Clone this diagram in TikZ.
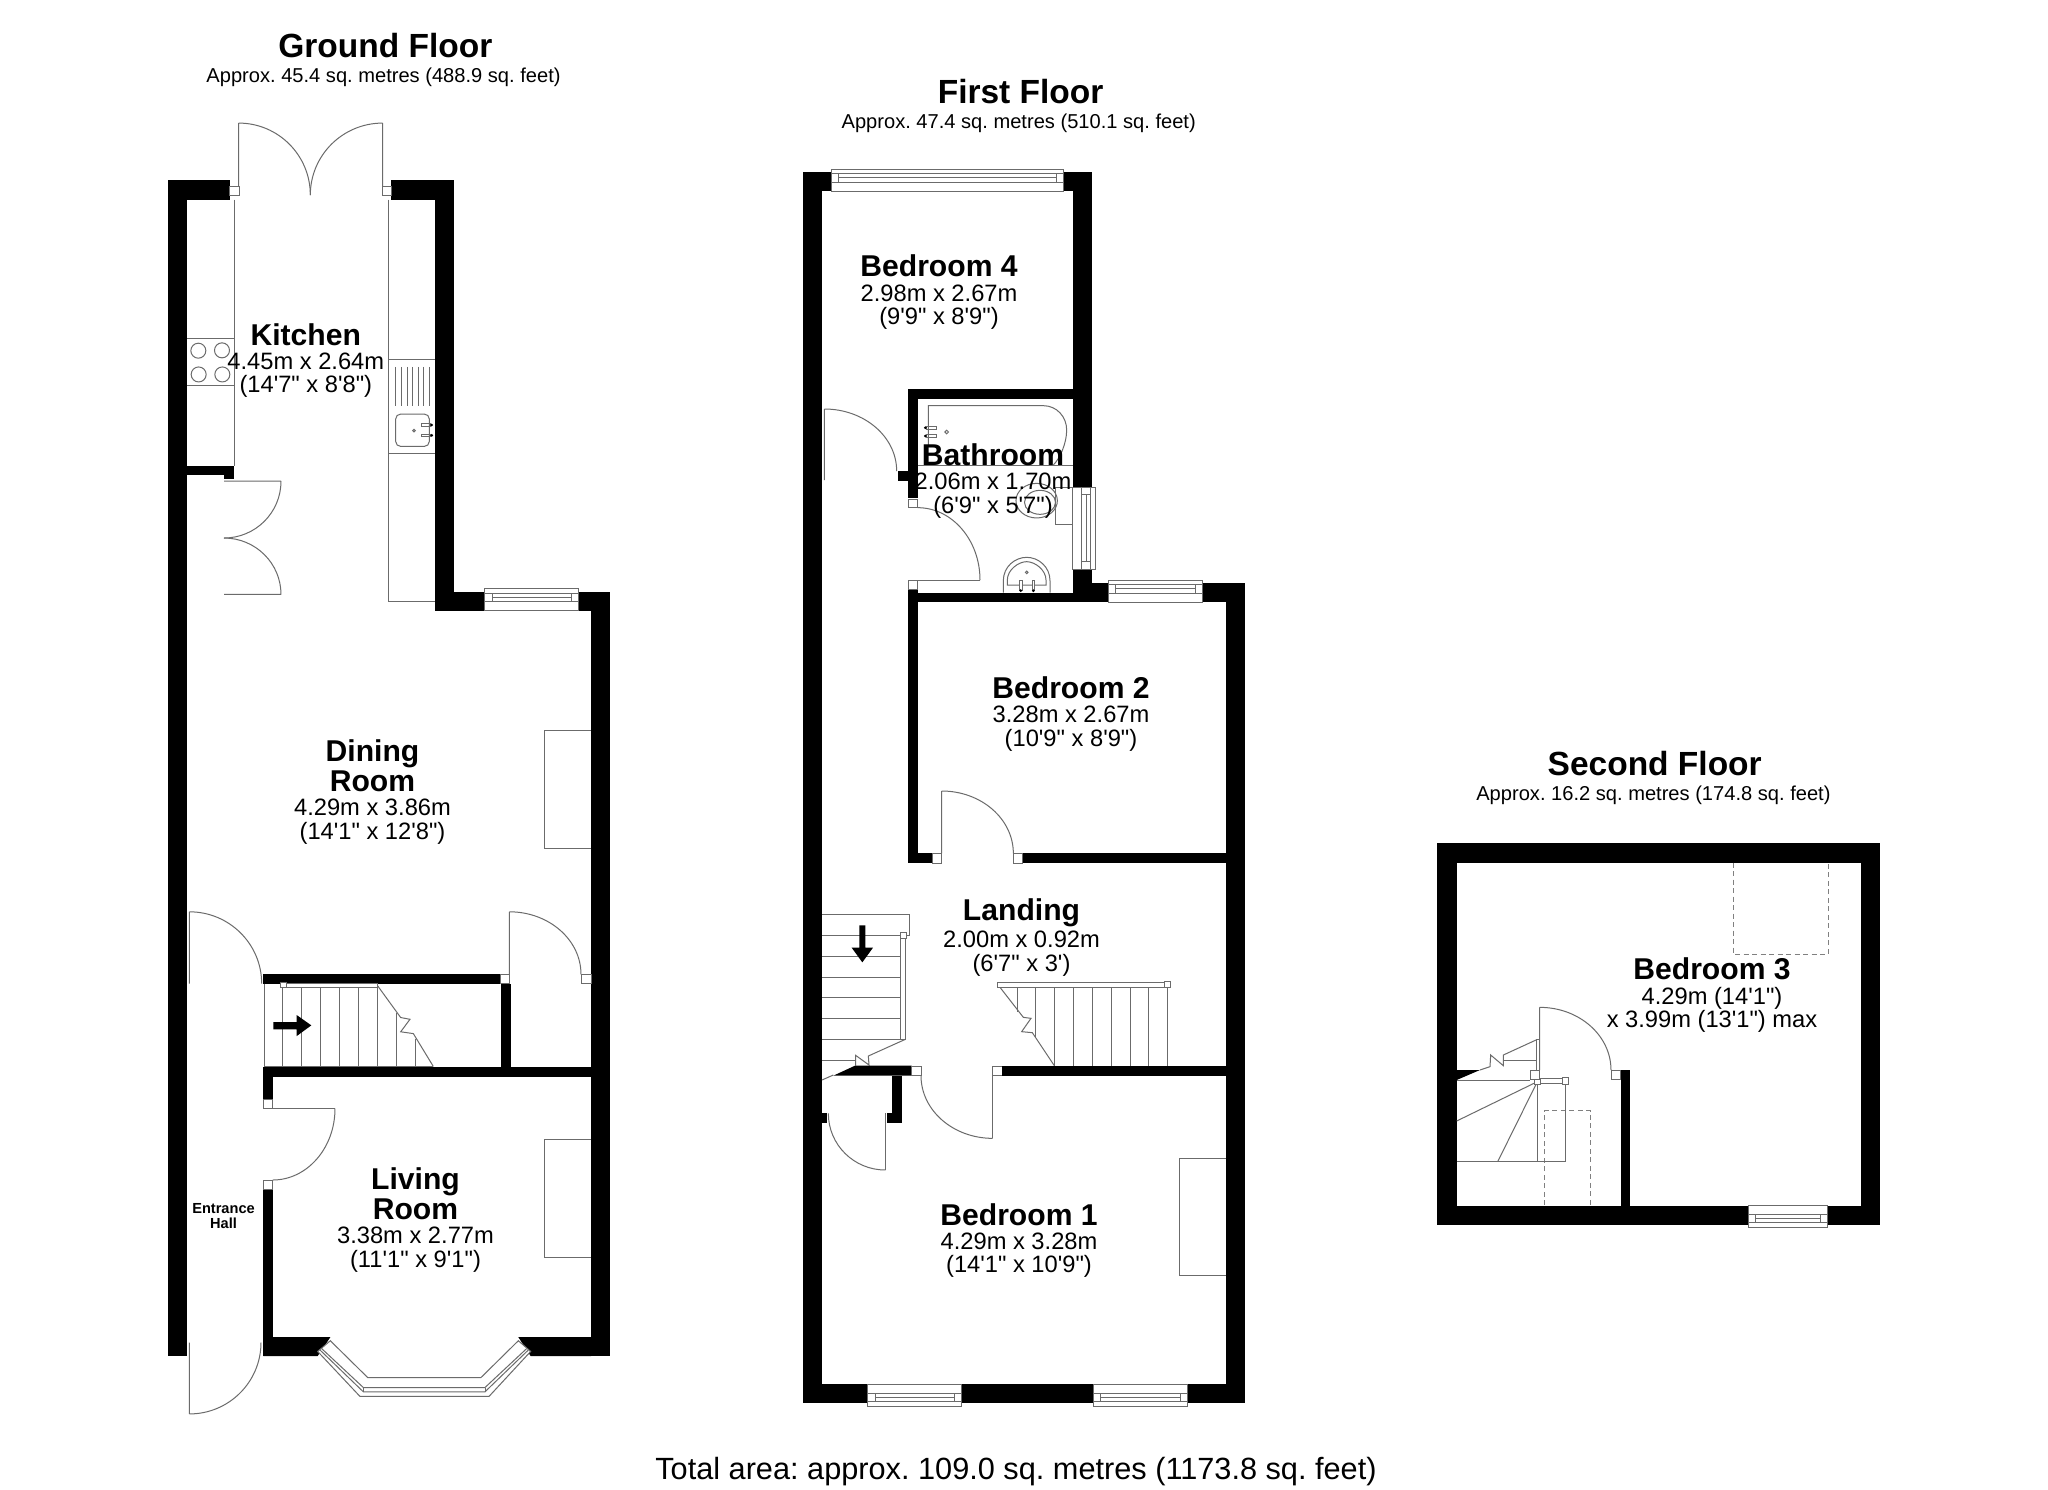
\documentclass[tikz,border=0pt]{standalone}
\usepackage{fontspec}
\newfontfamily\lib{Liberation Sans}
\frenchspacing
\newcommand\nameF{\lib\bfseries\fontsize{30.1}{24}\selectfont}
\newcommand\dimF{\lib\mdseries\fontsize{23.7}{24}\selectfont}
\newcommand\titleF{\lib\bfseries\fontsize{33.5}{36}\selectfont}
\newcommand\subF{\lib\mdseries\fontsize{20.1}{24}\selectfont}
% quarter arc: horizontal tangent at start, vertical tangent at end
\newcommand\qhv[4]{(#1,#2) .. controls ({#1+.5523*(#3-#1)},#2) and (#3,{#4-.5523*(#4-#2)}) .. (#3,#4)}
\tikzset{
  zm/.style n args={4}{shift={(#1,#2)},x=#3pt,y=-#4pt},
  wall/.style={fill=black,draw=none},
  thin line/.style={draw=black!58,line width=1pt},
  sqbox/.style={draw=black!58,line width=1pt,fill=white},
  dash line/.style={draw=black!50,line width=1pt,dash pattern=on 5pt off 3.5pt},
  roomlabel/.style={align=center,inner sep=0pt},
}
\newcommand\windraw[1]{%
  \draw[sqbox] (0,0) rectangle (1,1);
  \draw[thin line] (0,.41)--(1,.41) (0,.78)--(1,.78) (#1,.6)--({1-#1},.6)
     (#1,.41)--(#1,.78) ({1-#1},.41)--({1-#1},.78);}
\newcommand\winh[4]{\begin{scope}[shift={(#1,#2)},x=#3pt,y=#4pt]\windraw{7.3/#3}\end{scope}}
\newcommand\winv[4]{\begin{scope}[shift={(#1,#2)},x={(0pt,-#3pt)},y={(#4pt,0pt)}]\windraw{7.3/#3}\end{scope}}
\begin{document}
\begin{tikzpicture}[x=1pt,y=-1pt]
\useasboundingbox (0,0) rectangle (2048,1489);
\fill[white] (0,0) rectangle (2048,1489);

% ===== GROUND FLOOR =====
\fill[wall] (167.7,180.2) rectangle (187,1356);
\fill[wall] (591,591.7) rectangle (610.3,1356);
\begin{scope}[zm={150}{100}{.33333}{.34435}]
  \fill[wall] (53,233) rectangle (239,289);
  \fill[wall] (724,233) rectangle (913,289);
  \fill[wall] (856,233) rectangle (913,1483);
  \fill[wall] (856,1428) rectangle (1003,1483);
  \fill[wall] (111,1063) rectangle (252,1090);
  \fill[wall] (222,1090) rectangle (252,1102);
  \draw[sqbox] (239,250) rectangle (267,276);
  \draw[sqbox] (697,250) rectangle (724,276);
  \draw[thin line] (266,250)--(266,67) \qhv{266}{67}{481}{276};
  \draw[thin line] (698,250)--(698,67) \qhv{698}{67}{481}{276};
  \draw[thin line] (222,1107)--(393,1107) \qhv{222}{1272}{393}{1107};
  \draw[thin line] (222,1436)--(393,1436) \qhv{222}{1272}{393}{1436};
  \draw[thin line] (252,289)--(252,1063) (111,692)--(252,692) (111,830)--(252,830);
  \foreach \p in {(145,728),(216,727),(146,797),(217,797)} \draw[thin line] \p circle[radius=7.5pt];
  \draw[thin line] (715,289)--(715,1456)--(856,1456) (715,753)--(856,753) (715,1027)--(856,1027);
  \foreach \q in {737,754,771,787,804,821,838} \draw[thin line] (\q,775)--(\q,890);
  \draw[thin line,rounded corners=5pt] (737,912) rectangle (838,1006);
  \draw[thin line] (814,940) rectangle (842,948) (814,970) rectangle (842,978);
  \fill (845,944) circle[radius=1.5pt] (845,974) circle[radius=1.5pt];
  \draw[thin line] (792,960) circle[radius=1.3pt];
\end{scope}
\fill[wall] (578.7,591.7) rectangle (610.3,610.7);
\winh{484.7}{610.7}{94}{22.4}
\draw[thin line] (591,730.3)--(544,730.3)--(544,848.3)--(591,848.3);
\begin{scope}[zm={150}{880}{.33333}{.35714}]
  \fill[wall] (340,264) rectangle (1050,290);
  \fill[wall] (1054,290) rectangle (1082,525);
  \fill[wall] (340,524) rectangle (1323,552);
  \fill[wall] (340,552) rectangle (369,614);
  \fill[wall] (340,866) rectangle (369,1333);
  \fill[wall] (340,1280) -- (541,1280) -- (503,1333) -- (340,1333) -- cycle;
  \fill[wall] (1105,1280) -- (1323,1280) -- (1323,1333) -- (1142,1333) -- cycle;
  % entrance doors
  \draw[thin line] (118,290)--(118,89) \qhv{118}{89}{335}{290};
  \draw[thin line] (118,1295)--(118,1495) \qhv{118}{1495}{333}{1295};
  % living room door
  \draw[sqbox] (340,614) rectangle (368,640);
  \draw[sqbox] (340,842) rectangle (368,866);
  \draw[thin line] (368,640)--(555,640);
  \draw[thin line] \qhv{368}{840}{555}{640};
  % dining door
  \draw[sqbox] (1052,264) rectangle (1078,290);
  \draw[sqbox] (1293,264) rectangle (1323,290);
  \draw[thin line] (1078,264)--(1078,89) \qhv{1078}{89}{1293}{264};
  % fireplace
  \draw[thin line] (1323,727)--(1182,727)--(1182,1057)--(1323,1057);
  % stairs
  \draw[thin line] (342,290)--(342,522)--(850,522);
  \foreach \q in {398,455,512,569,625,682} \draw[thin line] (\q,302)--(\q,522);
  \draw[thin line] (738,372)--(738,522) (795,445)--(795,522);
  \draw[thin line] (682,295)--(752,385)--(780,390)--(752,425)--(790,430)--(850,522);
  \draw[sqbox] (398,290) rectangle (682,302);
  \draw[sqbox] (390,287) rectangle (408,302);
  \fill[black] (370,398)--(440,398)--(440,378)--(484,407)--(440,437)--(440,418)--(370,418)--cycle;
  % bay
  \draw[thin line,fill=white] (503,1320)--(630,1446)--(1017,1446)--(1142,1320)--(1105,1290)--(993,1393)--(653,1393)--(541,1290)--cycle;
  \draw[thin line] (515,1312)--(640,1421)--(1005,1421)--(1130,1312);
  \draw[thin line] (510,1316)--(640,1433)--(1005,1433)--(1135,1316);
  \draw[thin line] (640,1421)--(640,1433) (1005,1421)--(1005,1433);
\end{scope}

% ===== FIRST FLOOR =====
\fill[wall] (802.7,172) rectangle (822.3,1403.3);
\fill[wall] (1072.7,172) rectangle (1092,487.3);
\fill[wall] (1225.7,583.3) rectangle (1245.3,1403.3);
\begin{scope}[zm={790}{150}{.33333}{.33333}]
  \fill[wall] (38,66) rectangle (123,124);
  \fill[wall] (820,66) rectangle (906,124);
\end{scope}
\winh{831}{191.3}{232.3}{22.3}
\begin{scope}[zm={790}{370}{.33333}{.33333}]
  \fill[wall] (353,58) rectangle (848,88);
  \fill[wall] (353,58) rectangle (383,385);
  \fill[wall] (323,303) rectangle (353,332);
  \fill[wall] (848,597) rectangle (905,697);
  \draw[sqbox] (355,388) rectangle (383,413);
  \draw[sqbox] (355,630) rectangle (383,657);
  \draw[thin line] \qhv{383}{413}{570}{630};
  \draw[thin line] (570,630)--(383,630);
  \draw[thin line] (103,330)--(103,117) \qhv{103}{117}{320}{303};
  % bath
  \draw[thin line] (383,285)--(848,285);
  \draw[thin line] (415,285)--(415,107)--(760,107) .. controls (800,107) and (830,140) .. (830,180) .. controls (830,220) and (810,265) .. (790,285);
  \draw[thin line] (410,169) rectangle (438,177) (410,194) rectangle (438,202);
  \fill (406,173) circle[radius=1.5pt] (406,198) circle[radius=1.5pt];
  \draw[thin line] (470,186) circle[radius=1.8pt];
  % wc
  \draw[thin line] (797,352) rectangle (848,463);
  \draw[thin line] (740,392) ellipse[x radius=20.7pt,y radius=17.3pt];
  \draw[thin line] (750,397) ellipse[x radius=15.5pt,y radius=12pt];
  % basin
  \draw[thin line] (640,668)--(640,632) .. controls (640,590) and (675,562) .. (710,562) .. controls (745,562) and (780,590) .. (780,632)--(780,668);
  \draw[thin line] (652,645)--(652,630) .. controls (652,600) and (685,575) .. (710,575) .. controls (735,575) and (768,600) .. (768,630)--(768,645)--cycle;
  \draw[thin line,fill=white] (688,632) rectangle (696,660) (726,632) rectangle (734,660);
  \fill (692,662) circle[radius=1.5pt] (730,662) circle[radius=1.5pt];
  \draw[thin line] (710,607) circle[radius=1.3pt];
\end{scope}
\winv{1072.7}{487.3}{81.7}{22.3}
\begin{scope}[zm={890}{570}{.33333}{.33333}]
  \fill[wall] (53,60) rectangle (83,879);
  \fill[wall] (53,68) rectangle (655,97);
  \fill[wall] (605,40) rectangle (655,97);
  \fill[wall] (937,40) rectangle (1066,97);
  \fill[wall] (53,850) rectangle (127,879);
  \fill[wall] (397,850) rectangle (1007,879);
  \draw[sqbox] (127,850) rectangle (155,879);
  \draw[sqbox] (370,850) rectangle (397,879);
  \draw[thin line] (155,850)--(155,663) \qhv{155}{663}{370}{850};
\end{scope}
\winh{1108.3}{602.3}{94}{22.3}
\begin{scope}[zm={800}{900}{.33333}{.33333}]
  % upper stairs (down)
  \draw[thin line] (66,44)--(328,44)--(328,105)--(318,105);
  \foreach \q in {105,168,231,293,355,418} \draw[thin line] (66,\q)--(300,\q);
  \draw[thin line] (66,480)--(165,480);
  \draw[thin line] (300,115) rectangle (316,418);
  \draw[sqbox] (300,97) rectangle (318,115);
  \draw[thin line] (316,418)--(205,468)--(207,495)--(167,466)--(167,497);
  \draw[thin line] (100,525)--(66,540);
  \fill[black] (178,76)--(196,76)--(196,143)--(219,143)--(187,187)--(155,143)--(178,143)--cycle;
  % walls
  \fill[wall] (100,527)--(165,497)--(335,497)--(335,527)--cycle;
  \fill[wall] (275,527) rectangle (305,640);
  \fill[wall] (262,640) rectangle (305,668);
  \fill[wall] (66,640) rectangle (80,668);
  \draw[sqbox] (335,500) rectangle (363,527);
  \draw[sqbox] (578,500) rectangle (606,527);
  \fill[wall] (606,497) rectangle (1278,527);
  % closet door
  \draw[thin line] (256,640)--(256,810);
  \draw[thin line] \qhv{256}{810}{85}{640};
  % bedroom 1 door
  \draw[thin line] (578,527)--(578,715);
  \draw[thin line] \qhv{578}{715}{363}{527};
  % lower stairs
  \draw[thin line] (600,262)--(670,352)--(693,355)--(665,395)--(697,398)--(763,497);
  \draw[thin line] (651,262)--(651,335) (707,262)--(707,412);
  \foreach \q in {763,820,877,933,990,1046,1103} \draw[thin line] (\q,262)--(\q,497);
  \draw[sqbox] (593,248) rectangle (1103,262);
  \draw[sqbox] (1093,243) rectangle (1112,263);
\end{scope}
\begin{scope}[zm={790}{1180}{.33333}{.33333}]
  \fill[wall] (38,612) rectangle (1366,670);
  \draw[thin line] (1308,-66)--(1167,-66)--(1167,287)--(1308,287);
\end{scope}
\winh{867.7}{1384}{94}{-22.7}
\winh{1093.3}{1384}{94}{-22.7}

% ===== SECOND FLOOR =====
\begin{scope}[zm={1430}{840}{.33333}{.33333}]
  \fill[wall] (22,10) rectangle (1350,68);
  \fill[wall] (22,1097) rectangle (1350,1155);
  \fill[wall] (22,10) rectangle (80,1155);
  \fill[wall] (1292,10) rectangle (1350,1155);
  \fill[wall] (572,690) rectangle (601,1097);
  \fill[wall] (80,690)--(150,690)--(80,720)--cycle;
  \draw[sqbox] (545,690) rectangle (572,718);
  \draw[thin line] (329,690)--(329,502) \qhv{329}{502}{543}{690};
  \draw[dash line] (910,68)--(910,343)--(1194,343)--(1194,68);
  \draw[dash line] (344,1095)--(344,812)--(482,812)--(482,1095);
  % stairs
  \draw[thin line] (80,722)--(300,722);
  \draw[thin line] (80,965)--(405,965)--(405,732);
  \draw[thin line] (322,733)--(322,965);
  \draw[thin line] (322,725)--(80,843) (322,725)--(203,965);
  \draw[thin line] (318,597) rectangle (329,690);
  \draw[thin line] (318,600)--(220,645)--(220,677)--(182,645)--(180,680)--(150,690);
  \draw[thin line] (220,660)--(318,660);
  \draw[sqbox] (300,690) rectangle (329,718);
  \draw[sqbox] (331,716) rectangle (397,730);
  \draw[sqbox] (314,717) rectangle (331,733);
  \draw[sqbox] (397,712) rectangle (415,732);
\end{scope}
\winh{1748.3}{1205.7}{79.4}{-22}

% ===== TEXT =====
\node[roomlabel] (gtitle) at (385.3,45.7) {\titleF Ground Floor};
\node[roomlabel] (gsub) at (383.5,77) {\subF Approx. 45.4 sq. metres (488.9 sq. feet)};
\node[roomlabel] (ftitle) at (1020.6,91.4) {\titleF First Floor};
\node[roomlabel] (fsub) at (1018.7,123) {\subF Approx. 47.4 sq. metres (510.1 sq. feet)};
\node[roomlabel] (stitle) at (1654.7,764) {\titleF Second Floor};
\node[roomlabel] (ssub) at (1653.4,795) {\subF Approx. 16.2 sq. metres (174.8 sq. feet)};
\node[roomlabel] (total) at (1016,1472) {\lib\fontsize{30.7}{34}\selectfont Total area: approx. 109.0 sq. metres (1173.8 sq. feet)};

\node[roomlabel] (kitchen) at (305.8,360.6) {\nameF Kitchen\\[6.5pt]\dimF 4.45m x 2.64m\\[5pt]\dimF (14'7" x 8'8")};
\node[roomlabel] (dining) at (372.5,792) {\nameF Dining\\[2pt]\nameF Room\\[6.5pt]\dimF 4.29m x 3.86m\\[5pt]\dimF (14'1" x 12'8")};
\node[roomlabel] (living) at (415.5,1220) {\nameF Living\\[2pt]\nameF Room\\[6.5pt]\dimF 3.38m x 2.77m\\[5pt]\dimF (11'1" x 9'1")};
\node[roomlabel] (bed4) at (939,292.4) {\nameF Bedroom 4\\[6.5pt]\dimF 2.98m x 2.67m\\[5pt]\dimF (9'9" x 8'9")};
\node[roomlabel] (bath) at (993,481) {\nameF Bathroom\\[6.5pt]\dimF 2.06m x 1.70m\\[5pt]\dimF (6'9" x 5'7")};
\node[roomlabel] (bed2) at (1071,714) {\nameF Bedroom 2\\[6.5pt]\dimF 3.28m x 2.67m\\[5pt]\dimF (10'9" x 8'9")};
\node[roomlabel] (landing) at (1021.5,937.5) {\nameF Landing\\[3pt]\dimF 2.00m x 0.92m\\[5pt]\dimF (6'7" x 3')};
\node[roomlabel] (bed1) at (1019,1240.6) {\nameF Bedroom 1\\[6.5pt]\dimF 4.29m x 3.28m\\[5pt]\dimF (14'1" x 10'9")};
\node[roomlabel] (bed3) at (1712,995) {\nameF Bedroom 3\\[6.5pt]\dimF 4.29m (14'1")\\[0pt]\dimF x 3.99m (13'1") max};
\node[roomlabel] (hall) at (223.5,1216) {\lib\bfseries\fontsize{14.6}{15}\selectfont Entrance\\[3.5pt]\lib\bfseries\fontsize{14.6}{15}\selectfont Hall};
\end{tikzpicture}
\end{document}
